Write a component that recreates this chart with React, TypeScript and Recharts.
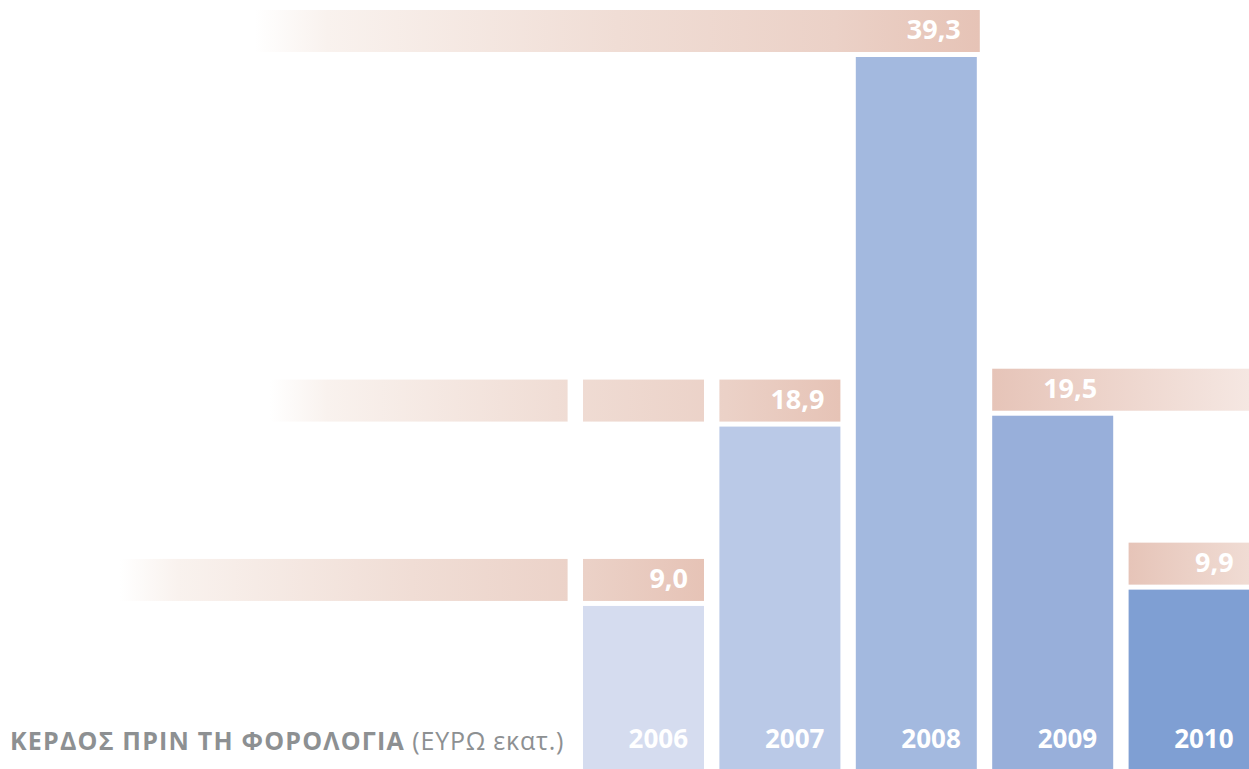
import { BarChart, Bar, XAxis, YAxis, LabelList } from "recharts";

const years = ["2006", "2007", "2008", "2009", "2010"];
const profit = [9.0, 18.9, 39.3, 19.5, 9.9];

const barColors = ["#d5dcef", "#bac9e7", "#a3b9df", "#98afda", "#7f9fd3"];
// decorative band trails: where the fade starts on the left, and which rows are split by column gaps
const trailStart: (number | null)[] = [120, 270, 255, null, null];
const trailGapped = [true, true, false, false, false];
const trailToEdge = [false, false, false, true, false];

const data = years.map((year, i) => ({ year, value: profit[i] }));

const W = 1249;
const H = 769;
const BAND_H = 42;
const BAND_GAP = 5;

const BarWithBand = (props: any) => {
  const { x, y, width, height, payload } = props;
  const i = years.indexOf(payload.year);
  const step = (W + 8 - 575) / years.length;
  const gap = step - width;
  const by = y - BAND_GAP - BAND_H;
  const start = trailStart[i];
  const gid = `band-${i}`;

  let bandX = x;
  let bandEnd = x + width;
  let stops: [number, string][];
  if (start != null) {
    bandX = start;
    bandEnd = x + width + (trailGapped[i] ? 0 : 3);
    stops = [
      [0, "#ffffff"],
      [0.1, "#f9f2ee"],
      [0.5, "#f0ddd5"],
      [0.8, "#ebd1c7"],
      [1, "#e6c3b6"],
    ];
  } else if (trailToEdge[i]) {
    bandEnd = W;
    stops = [
      [0, "#e6c4b8"],
      [1, "#f5e7e2"],
    ];
  } else {
    stops = [
      [0, "#e6c4b8"],
      [1, "#f0dcd4"],
    ];
  }

  const gaps: number[] = [];
  if (trailGapped[i]) {
    for (let k = 0; k <= i; k++) gaps.push(x - k * step - gap);
  }

  return (
    <g>
      <defs>
        <linearGradient id={gid} gradientUnits="userSpaceOnUse" x1={bandX} x2={bandEnd} y1={0} y2={0}>
          {stops.map(([o, c]) => (
            <stop key={o} offset={o} stopColor={c} />
          ))}
        </linearGradient>
      </defs>
      <rect x={bandX} y={by} width={bandEnd - bandX} height={BAND_H} fill={`url(#${gid})`} />
      {gaps.map((gx) => (
        <rect key={gx} x={gx} y={by - 1} width={gap} height={BAND_H + 2} fill="#ffffff" />
      ))}
      <rect x={x} y={y} width={width} height={height} fill={barColors[i]} />
    </g>
  );
};

const ValueLabel = (props: any) => {
  const { x, y, width, value } = props;
  return (
    <text
      x={x + width - 16}
      y={y - BAND_GAP - BAND_H + 29}
      textAnchor="end"
      fill="#ffffff"
      fontFamily="'Open Sans', sans-serif"
      fontWeight={700}
      fontSize={27}
    >
      {Number(value).toFixed(1).replace(".", ",")}
    </text>
  );
};

const YearLabel = (props: any) => {
  const { x, width, value } = props;
  return (
    <text
      x={x + width - 16}
      y={748}
      textAnchor="end"
      fill="#ffffff"
      fontFamily="'Open Sans', sans-serif"
      fontWeight={700}
      fontSize={26}
    >
      {value}
    </text>
  );
};

export default function App() {
  return (
    <div
      style={{
        position: "absolute",
        left: 0,
        top: 0,
        width: W,
        height: H,
        overflow: "hidden",
        background: "#ffffff",
      }}
    >
      <BarChart
        width={W + 8}
        height={H}
        data={data}
        margin={{ top: 57, right: 0, left: 575, bottom: 0 }}
        barSize={121}
      >
        <XAxis dataKey="year" hide />
        <YAxis hide domain={[0, 39.3]} scale="linear" />
        <Bar dataKey="value" shape={<BarWithBand />} isAnimationActive={false}>
          <LabelList dataKey="value" content={<ValueLabel />} />
          <LabelList dataKey="year" content={<YearLabel />} />
        </Bar>
      </BarChart>
      <div
        style={{
          position: "absolute",
          left: 10,
          top: 724,
          fontFamily: "'Open Sans', sans-serif",
          fontSize: 25,
          color: "#8d9092",
          whiteSpace: "nowrap",
          lineHeight: "32px",
        }}
      >
        <span style={{ fontWeight: 700, letterSpacing: 1.2 }}>ΚΕΡΔΟΣ ΠΡΙΝ ΤΗ ΦΟΡΟΛΟΓΙΑ</span>
        <span style={{ letterSpacing: 0.8 }}> (ΕΥΡΩ εκατ.)</span>
      </div>
    </div>
  );
}
